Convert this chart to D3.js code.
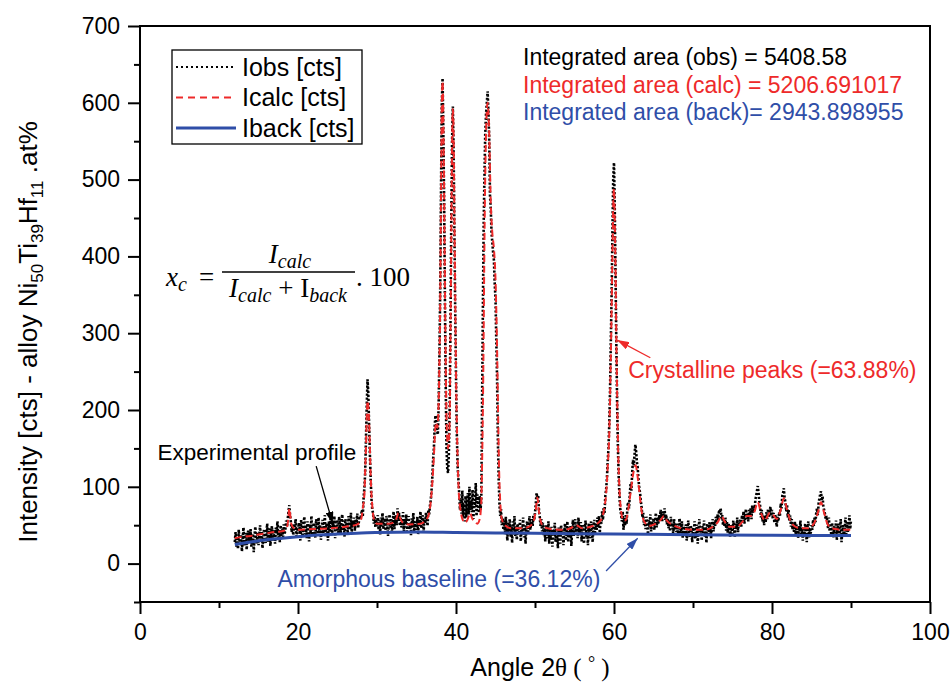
<!DOCTYPE html>
<html><head><meta charset="utf-8">
<script src="https://cdn.jsdelivr.net/npm/d3@7"></script>
<style>body{margin:0;background:#fff}</style>
</head><body>
<svg id="chart" width="951" height="686" font-family="Liberation Sans, Arial, sans-serif"></svg>
<script>
// ---------- data ----------
const xMajorTicks = [0,20,40,60,80,100];
const xMinorTicks = [10,30,50,70,90];
const yMajorTicks = [0,100,200,300,400,500,600,700];
const yMinorTicks = [-50,50,150,250,350,450,550,650];

// observed intensity, one value every 0.1 deg from 12.0 deg to 90.0 deg
const obsStart = 12, obsStep = 0.1;
const obsValues = [
28,41,22,35,19,44,30,25,38,16,
33,47,24,29,40,18,36,43,27,31,
45,22,34,39,15,37,48,26,30,41,
24,36,50,29,42,20,33,45,31,27,
40,52,28,35,46,23,38,49,30,44,
33,26,47,39,55,31,42,28,50,36,
45,32,51,38,44,56,48,58,68,76,
62,54,41,49,37,52,44,58,35,47,
39,53,46,30,57,42,35,50,61,38,
48,33,55,44,29,51,40,62,37,46,
53,41,34,58,47,36,60,43,50,31,
44,57,39,49,63,35,52,46,30,55,
41,59,48,37,54,45,62,33,50,57,
46,38,61,52,40,56,64,43,49,35,
58,47,53,39,62,50,44,66,41,55,
48,60,43,57,51,65,46,54,62,58,
64,70,61,85,98,118,160,205,240,222,
180,142,110,84,70,66,52,61,47,58,
49,63,44,57,38,60,51,66,45,54,
59,43,62,50,36,55,64,47,58,41,
56,68,45,53,63,50,72,58,66,49,
60,47,55,67,42,58,51,64,39,56,
62,45,53,37,59,48,66,42,55,50,
44,61,38,57,52,68,46,55,63,41,
58,52,66,60,49,70,64,75,82,95,
112,135,150,178,193,186,172,168,205,270,
355,480,598,632,560,470,340,230,150,122,
118,145,205,310,445,548,595,540,430,330,
245,170,128,110,92,70,84,65,95,61,
78,55,88,60,72,92,64,100,70,82,
67,96,58,84,73,105,62,90,78,66,
88,70,82,210,330,440,505,560,585,600,
615,590,555,480,462,430,418,405,395,365,
345,290,240,160,110,78,62,71,50,59,
44,56,38,61,47,30,53,42,58,35,
49,27,55,40,62,36,45,31,52,43,
38,57,29,48,41,60,34,50,26,46,
55,39,47,62,44,51,58,49,63,57,
66,78,92,85,89,70,61,49,58,42,
53,37,46,29,51,40,33,55,26,44,
31,48,22,42,37,53,28,45,35,20,
47,33,26,50,38,44,24,41,52,30,
39,55,28,46,34,49,23,43,57,36,
48,58,41,52,33,60,45,37,54,29,
50,40,26,47,56,35,44,24,52,41,
33,55,46,28,49,57,38,52,44,60,
47,62,40,58,52,68,57,73,66,88,
96,110,132,150,180,225,290,350,430,500,
522,460,370,282,205,150,112,86,70,64,
55,68,44,60,49,63,52,75,80,72,
90,104,95,118,135,128,142,155,146,132,
125,110,98,92,81,73,60,66,50,58,
45,61,52,38,57,48,64,42,55,50,
59,44,53,66,47,60,51,63,56,70,
62,55,68,60,72,57,64,51,59,46,
56,42,61,48,53,37,58,45,50,41,
52,36,47,59,40,44,55,33,49,43,
38,51,30,46,56,41,34,50,45,28,
47,39,55,32,44,51,26,42,58,37,
45,30,49,40,56,35,48,27,52,43,
38,54,46,33,50,58,42,55,49,61,
53,64,57,70,66,72,59,63,50,57,
48,60,43,55,40,52,46,35,50,44,
39,56,47,34,52,45,60,41,55,49,
58,47,63,55,68,52,60,71,58,65,
55,70,63,72,58,76,66,74,69,84,
88,95,101,92,80,75,60,70,55,63,
50,62,54,67,58,71,60,68,74,62,
70,58,66,53,64,57,48,61,55,67,
62,78,72,88,92,98,85,80,68,77,
60,70,55,63,48,58,44,52,40,55,
38,51,44,33,49,42,56,36,47,30,
45,37,52,41,28,48,55,34,46,39,
50,44,57,49,61,54,66,72,63,78,
85,90,94,82,88,74,70,65,58,62,
55,46,60,42,50,37,53,44,34,49,
40,56,31,47,52,36,44,58,28,42,
50,35,46,60,38,54,41,48,63,45,
57];

// calculated profile
const calcAngles = [12,13,14,15,16,17,18,18.5,18.7,18.8,18.9,19.0,19.1,19.2,19.5,20,22,24,26,27.5,
28.0,28.2,28.4,28.5,28.6,28.7,28.8,28.9,29.0,29.1,29.2,29.3,29.4,29.5,29.7,30.0,31.5,32.2,32.5,32.7,32.9,33.2,34,35.5,36.3,36.6,36.8,
37.0,37.2,37.35,37.5,37.65,37.8,37.9,38.0,38.1,38.2,38.3,38.4,38.5,38.6,38.7,38.8,38.9,39.0,39.1,39.2,39.3,39.4,39.5,39.6,39.7,39.8,39.9,
40.0,40.1,40.2,40.3,40.4,40.5,40.7,40.9,41.1,41.4,41.7,41.8,42.0,42.4,42.7,43.0,43.2,43.3,43.4,43.5,43.6,43.8,
44.0,44.2,44.4,44.6,44.8,45.0,45.1,45.2,45.3,45.4,45.5,45.6,45.8,46.2,47,48.5,49.5,49.9,50.1,50.3,50.5,50.7,51.0,
52,53.5,54.5,55.2,56,57,58.0,58.5,58.8,59.0,59.2,59.4,59.6,59.8,59.9,60.0,60.1,60.2,60.3,60.4,60.5,60.6,60.7,60.9,61.2,61.5,61.8,
62.0,62.2,62.4,62.6,62.75,62.9,63.1,63.3,63.5,63.8,64.5,65.3,66.0,66.3,66.7,67.5,68.5,70,71.5,72.5,73.2,73.6,74.0,74.6,75.5,76.3,76.8,
77.3,77.8,78.2,78.6,79.1,79.7,80.1,80.6,81.1,81.5,81.9,82.5,83.5,84.5,85.3,85.8,86.2,86.6,87.1,88,89,90];
const calcValues = [33,35,36,38,39.5,41,42,45,52,62,72,65,55,50,46,44,45,46,48,51,
58,72,90,120,150,190,212,205,185,150,115,90,75,64,55,52,52,54,60,66,60,54,51,52,58,66,80,
105,140,172,184,177,210,260,340,470,590,628,575,480,360,260,190,160,150,160,190,290,420,540,592,555,450,350,
250,185,140,105,85,75,62,56,53,56,64,66,60,54,52,58,80,130,200,300,420,560,
600,560,470,430,410,370,330,280,215,150,105,80,58,50,46,46,50,58,70,86,68,56,49,
45,44,46,50,46,48,53,60,74,90,125,170,270,400,465,488,445,380,290,220,160,120,95,68,56,57,70,
85,100,115,125,128,120,104,85,68,55,49,52,58,62,56,50,46,44,44,48,55,62,55,48,48,55,62,
62,68,80,66,56,66,64,58,70,85,70,52,46,46,52,66,80,66,50,45,44,44];

// background (amorphous baseline)
const backAngles = [12,14,16,18,20,22,24,26,28,30,35,40,50,60,70,80,90];
const backValues = [25,28,31,33,35,37,38,39,40,40.5,41,40.5,39.5,38.5,37.5,37,36.5];

const legendLabels = ["Iobs [cts]","Icalc [cts]","Iback [cts]"];
const areaLabels = ["Integrated area (obs) = 5408.58","Integrated area (calc) = 5206.691017","Integrated area (back)= 2943.898955"];
const annotationTexts = ["Experimental profile","Crystalline peaks (=63.88%)","Amorphous baseline (=36.12%)"];

// ---------- drawing ----------
const RED = "#ee2a2a", BLUE = "#2f4ea8";
const SANS = "Liberation Sans, Arial, sans-serif", SERIF = "Liberation Serif, Times New Roman, serif";
const svg = d3.select("#chart");
const x = d3.scaleLinear().domain([0,100]).range([140,930]);
const y = d3.scaleLinear().domain([-50,700]).range([602,26]);

const defs = svg.append("defs");
function marker(id, color){
  defs.append("marker").attr("id",id).attr("viewBox","0 0 12 8").attr("refX",12).attr("refY",4)
    .attr("markerWidth",12).attr("markerHeight",8).attr("markerUnits","userSpaceOnUse").attr("orient","auto")
    .append("path").attr("d","M0,0 L12,4 L0,8 z").attr("fill",color);
}
marker("arrK","#000"); marker("arrR",RED); marker("arrB",BLUE);

// curves
const obsData = obsValues.map((v,i)=>[obsStart+i*obsStep, v]);
const calcData = calcAngles.map((a,i)=>[a, calcValues[i]]);
const backData = backAngles.map((a,i)=>[a, backValues[i]]);

svg.append("path").datum(obsData)
  .attr("d", d3.line().x(d=>x(d[0])).y(d=>y(d[1])))
  .attr("fill","none").attr("stroke","#000").attr("stroke-width",2.6).attr("stroke-dasharray","2.2,1.8");
svg.append("path").datum(calcData)
  .attr("d", d3.line().curve(d3.curveMonotoneX).x(d=>x(d[0])).y(d=>y(d[1])))
  .attr("fill","none").attr("stroke",RED).attr("stroke-width",2).attr("stroke-dasharray","7,4");
svg.append("path").datum(backData)
  .attr("d", d3.line().curve(d3.curveMonotoneX).x(d=>x(d[0])).y(d=>y(d[1])))
  .attr("fill","none").attr("stroke",BLUE).attr("stroke-width",3);

// axes
function styleAxis(g){ g.select(".domain").remove(); g.selectAll("line").attr("stroke","#000").attr("stroke-width",2);
  g.selectAll("text").attr("font-size",23).attr("fill","#000").attr("font-family",SANS); }
svg.append("g").attr("transform","translate(0,602)")
  .call(d3.axisBottom(x).tickValues(xMinorTicks).tickSize(6).tickFormat("")).call(styleAxis);
svg.append("g").attr("transform","translate(0,602)")
  .call(d3.axisBottom(x).tickValues(xMajorTicks).tickSize(12).tickPadding(10).tickFormat(d3.format("d"))).call(styleAxis);
svg.append("g").attr("transform","translate(140,0)")
  .call(d3.axisLeft(y).tickValues(yMinorTicks).tickSize(6).tickFormat("")).call(styleAxis);
svg.append("g").attr("transform","translate(140,0)")
  .call(d3.axisLeft(y).tickValues(yMajorTicks).tickSize(12).tickPadding(8).tickFormat(d3.format("d"))).call(styleAxis);

// frame
svg.append("rect").attr("x",x(0)).attr("y",y(700)).attr("width",x(100)-x(0)).attr("height",y(-50)-y(700))
  .attr("fill","none").attr("stroke","#000").attr("stroke-width",2);

// axis titles
const xt = svg.append("text").attr("x",540).attr("y",676).attr("text-anchor","middle").attr("font-size",25).attr("font-family",SANS);
xt.append("tspan").text("Angle 2");
xt.append("tspan").attr("font-family",SERIF).text("θ ( ");
xt.append("tspan").attr("font-family",SERIF).attr("dy",-7).attr("font-size",18).text("°");
xt.append("tspan").attr("font-family",SERIF).attr("dy",7).text(" )");

const yt = svg.append("text").attr("transform","translate(37,332) rotate(-90)").attr("text-anchor","middle").attr("font-size",26).attr("font-family",SANS);
yt.append("tspan").text("Intensity [cts] - alloy Ni");
yt.append("tspan").attr("font-size",17).attr("dy",6).text("50");
yt.append("tspan").attr("dy",-6).text("Ti");
yt.append("tspan").attr("font-size",17).attr("dy",6).text("39");
yt.append("tspan").attr("dy",-6).text("Hf");
yt.append("tspan").attr("font-size",17).attr("dy",6).text("11");
yt.append("tspan").attr("dy",-6).text(" .at%");

// legend
const lg = svg.append("g");
lg.append("rect").attr("x",172).attr("y",50).attr("width",190).attr("height",94).attr("fill","#fff").attr("stroke","#000").attr("stroke-width",1.3);
const legStyles = [{c:"#000",w:2,da:"2,3"},{c:RED,w:1.8,da:"7,5"},{c:BLUE,w:3,da:null}];
legendLabels.forEach((t,i)=>{
  const yy = 67 + i*30.5;
  lg.append("line").attr("x1",176).attr("x2",236).attr("y1",yy).attr("y2",yy)
    .attr("stroke",legStyles[i].c).attr("stroke-width",legStyles[i].w).attr("stroke-dasharray",legStyles[i].da);
  lg.append("text").attr("x",242).attr("y",yy+8.5).attr("font-size",25).attr("font-family",SANS).text(t);
});

// integrated areas
const areaColors = ["#000",RED,BLUE];
areaLabels.forEach((t,i)=>{
  svg.append("text").attr("x",523).attr("y",65+i*27.5).attr("font-size",23).attr("font-family",SANS).attr("fill",areaColors[i]).text(t);
});

// formula
const f = svg.append("g");
function ftext(xx,yy,parts,anchor){
  const t = f.append("text").attr("x",xx).attr("y",yy).attr("text-anchor",anchor||"start").attr("font-family",SERIF).attr("font-size",27);
  parts.forEach(p=>{ const s=t.append("tspan").text(p.t);
    if(p.i) s.attr("font-style","italic"); if(p.s) s.attr("font-size",20); if(p.dy) s.attr("dy",p.dy); });
  return t;
}
ftext(166,286,[{t:"x",i:1},{t:"c",i:1,s:1,dy:5}]);
ftext(199,286,[{t:"="}]);
f.append("line").attr("x1",222).attr("x2",355).attr("y1",272).attr("y2",272).attr("stroke","#000").attr("stroke-width",1.6);
ftext(290,263,[{t:"I",i:1},{t:"calc",i:1,s:1,dy:5}],"middle");
ftext(288,297,[{t:"I",i:1},{t:"calc",i:1,s:1,dy:5},{t:" + I",dy:-5},{t:"back",i:1,s:1,dy:5}],"middle");
ftext(356,286,[{t:". 100"}]);

// annotations (placed in data coordinates)
svg.append("text").attr("x",x(2.2)).attr("y",y(135)).attr("font-size",22.5).attr("font-family",SANS).attr("fill","#000").text(annotationTexts[0]);
svg.append("line").attr("x1",x(22.3)).attr("y1",y(127)).attr("x2",x(24.4)).attr("y2",y(52))
  .attr("stroke","#000").attr("stroke-width",1.3).attr("marker-end","url(#arrK)");
svg.append("text").attr("x",x(61.8)).attr("y",y(242)).attr("font-size",23).attr("font-family",SANS).attr("fill",RED).text(annotationTexts[1]);
svg.append("line").attr("x1",x(64.6)).attr("y1",y(268)).attr("x2",x(60.4)).attr("y2",y(291))
  .attr("stroke",RED).attr("stroke-width",1.3).attr("marker-end","url(#arrR)");
svg.append("text").attr("x",x(17.4)).attr("y",y(-30.5)).attr("font-size",23).attr("font-family",SANS).attr("fill",BLUE).text(annotationTexts[2]);
svg.append("line").attr("x1",x(59.0)).attr("y1",y(-9.6)).attr("x2",x(63.0)).attr("y2",y(33))
  .attr("stroke",BLUE).attr("stroke-width",1.3).attr("marker-end","url(#arrB)");
</script>
</body></html>
